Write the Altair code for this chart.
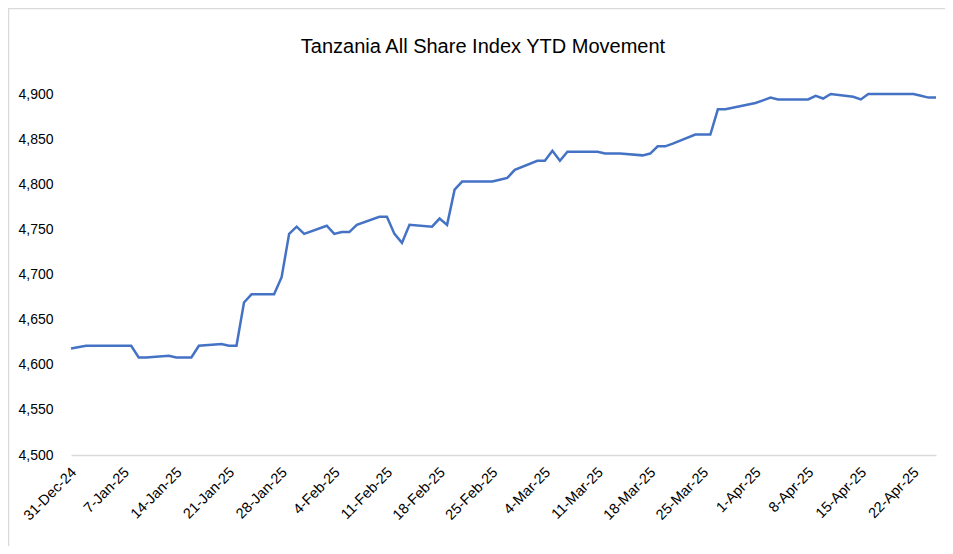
import altair as alt
import pandas as pd

dates = [
    "2024-12-31", "2025-01-02", "2025-01-03", "2025-01-06", "2025-01-07", "2025-01-08",
    "2025-01-09", "2025-01-10", "2025-01-13", "2025-01-14", "2025-01-15", "2025-01-16",
    "2025-01-17", "2025-01-20", "2025-01-21", "2025-01-22", "2025-01-23", "2025-01-24",
    "2025-01-27", "2025-01-28", "2025-01-29", "2025-01-30", "2025-01-31", "2025-02-03",
    "2025-02-04", "2025-02-05", "2025-02-06", "2025-02-07", "2025-02-10", "2025-02-11",
    "2025-02-12", "2025-02-13", "2025-02-14", "2025-02-17", "2025-02-18", "2025-02-19",
    "2025-02-20", "2025-02-21", "2025-02-24", "2025-02-25", "2025-02-26", "2025-02-27",
    "2025-02-28", "2025-03-03", "2025-03-04", "2025-03-05", "2025-03-06", "2025-03-07",
    "2025-03-10", "2025-03-11", "2025-03-12", "2025-03-13", "2025-03-14", "2025-03-17",
    "2025-03-18", "2025-03-19", "2025-03-20", "2025-03-21", "2025-03-24", "2025-03-25",
    "2025-03-26", "2025-03-27", "2025-03-28", "2025-04-01", "2025-04-02", "2025-04-03",
    "2025-04-04", "2025-04-08", "2025-04-09", "2025-04-10", "2025-04-11", "2025-04-14",
    "2025-04-15", "2025-04-16", "2025-04-17", "2025-04-22", "2025-04-23", "2025-04-24",
    "2025-04-25",
]
values = [
    4618, 4621, 4621, 4621, 4621, 4621,
    4608, 4608, 4610, 4608, 4608, 4608,
    4621, 4623, 4621, 4621, 4669, 4678,
    4678, 4697, 4745, 4753, 4745, 4754,
    4745, 4747, 4747, 4755, 4764, 4764,
    4745, 4735, 4755, 4753, 4762, 4755,
    4794, 4803, 4803, 4803, 4805, 4807,
    4816, 4826, 4826, 4837, 4826, 4836,
    4836, 4836, 4834, 4834, 4834, 4832,
    4834, 4842, 4842, 4845, 4855, 4855,
    4855, 4883, 4883, 4890, 4893, 4896,
    4894, 4894, 4898, 4895, 4900, 4897,
    4894, 4900, 4900, 4900, 4898, 4896,
    4896,
]
tick_dates = [
    (2024, 12, 31), (2025, 1, 7), (2025, 1, 14), (2025, 1, 21), (2025, 1, 28),
    (2025, 2, 4), (2025, 2, 11), (2025, 2, 18), (2025, 2, 25), (2025, 3, 4),
    (2025, 3, 11), (2025, 3, 18), (2025, 3, 25), (2025, 4, 1), (2025, 4, 8),
    (2025, 4, 15), (2025, 4, 22),
]
y_ticks = [4500, 4550, 4600, 4650, 4700, 4750, 4800, 4850, 4900]
title_text = "Tanzania All Share Index YTD Movement"

FONT = "Liberation Sans, Arial, sans-serif"

df = pd.DataFrame({"date": dates, "value": values})

W, H = 865, 361

line = alt.Chart(df).mark_line(color="#4472C4", strokeWidth=2.5).encode(
    x=alt.X(
        "date:T",
        scale=alt.Scale(
            type="utc",
            domain=[alt.DateTime(year=2024, month=12, date=31, utc=True),
                    alt.DateTime(year=2025, month=4, date=25, utc=True)],
        ),
        axis=alt.Axis(
            values=[alt.DateTime(year=y, month=m, date=d, utc=True) for (y, m, d) in tick_dates],
            format="%-d-%b-%y",
            labelAngle=-45,
            labelAlign="right",
            labelBaseline="middle",
            labelPadding=15,
            labelOffset=3,
            ticks=False,
            grid=False,
            domainColor="#d9d9d9",
            domainWidth=1.5,
            labelFont=FONT,
            labelFontSize=14.5,
            labelColor="#000000",
            labelOverlap=False,
            title=None,
        ),
    ),
    y=alt.Y(
        "value:Q",
        scale=alt.Scale(domain=[4500, 4900], nice=False, zero=False),
        axis=alt.Axis(
            values=y_ticks,
            format=",.0f",
            domain=False,
            ticks=False,
            grid=False,
            labelFont=FONT,
            labelFontSize=14,
            labelColor="#000000",
            labelPadding=18,
            title=None,
        ),
    ),
)

one = pd.DataFrame({"t": [title_text]})

border = alt.Chart(one).mark_rect(
    fill=None, stroke="#d9d9d9", strokeWidth=1.5
).encode(
    x=alt.value(-62.5),
    x2=alt.value(2000),
    y=alt.value(-85.5),
    y2=alt.value(2000),
)

title = alt.Chart(one).mark_text(
    font=FONT, fontSize=20, color="#000000", align="center", baseline="alphabetic"
).encode(
    text="t:N",
    x=alt.value(412),
    y=alt.value(-41),
)

chart = alt.layer(border, line, title).properties(
    width=W,
    height=H,
    autosize=alt.AutoSizeParams(type="none"),
    padding={"left": 63, "top": 86, "right": 9, "bottom": 91},
).configure_view(stroke=None)

chart.save("out.html", embed_options={"renderer": "svg", "actions": False})
